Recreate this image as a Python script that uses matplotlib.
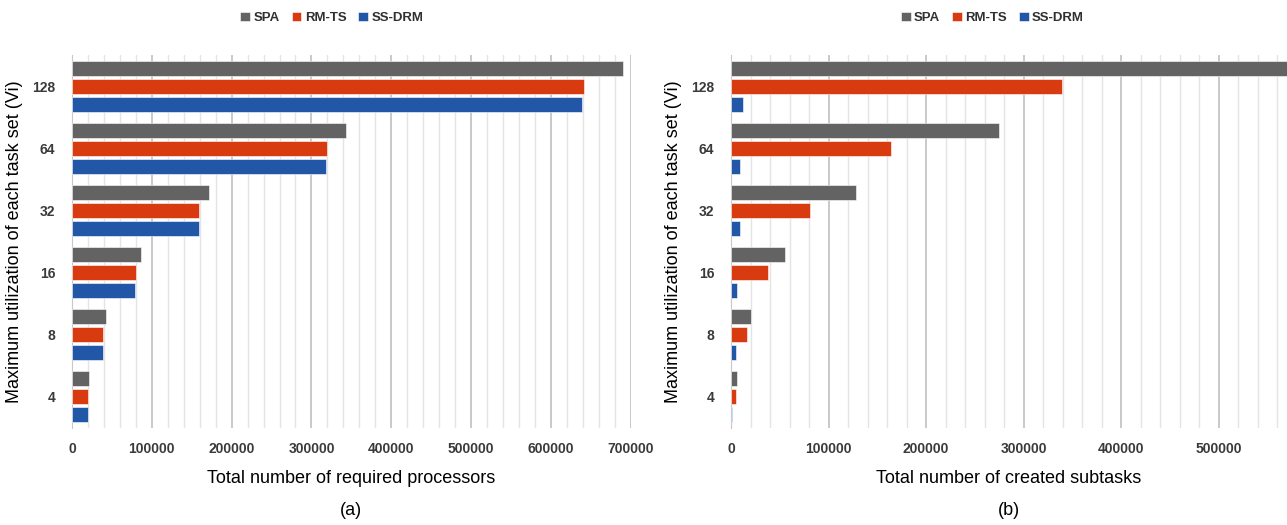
import numpy as np
import matplotlib.pyplot as plt
from matplotlib.ticker import MultipleLocator

# Maximum utilization of each task set (Vi)
categories = ["4", "8", "16", "32", "64", "128"]
series = ["SPA", "RM-TS", "SS-DRM"]
colors = ["#636363", "#d83b10", "#2257a8"]

# (a) total number of required processors
proc_spa = [21300, 42500, 86700, 172000, 343000, 691000]
proc_rmts = [19600, 39200, 80500, 159000, 320000, 642000]
proc_ssdrm = [19600, 39200, 78500, 159000, 318000, 639000]

# (b) total number of created subtasks
sub_spa = [6600, 20400, 55300, 128000, 274700, 580000]
sub_rmts = [5300, 16300, 37800, 81000, 164000, 339000]
sub_ssdrm = [1400, 5300, 6600, 9600, 9600, 12200]

plt.rcParams["font.family"] = ["Liberation Sans", "DejaVu Sans"]

fig = plt.figure(figsize=(12.87, 5.25), dpi=100)
ax1 = fig.add_axes([0.056, 0.185, 0.434, 0.71])
ax2 = fig.add_axes([0.568, 0.185, 0.432, 0.71])


def draw(ax, data, xmax, xlabel, tag, legend_x):
    y = np.arange(len(categories))
    step = 0.29
    for k, (vals, name, c) in enumerate(zip(data, series, colors)):
        ax.barh(y + (1 - k) * step, vals, height=0.24, color=c,
                edgecolor="white", linewidth=0.4, label=name, zorder=3)
    ax.set_ylim(-0.5, len(categories) - 0.5)
    ax.set_xlim(0, xmax)
    ax.set_yticks(y)
    ax.set_yticklabels(categories)
    ax.xaxis.set_major_locator(MultipleLocator(100000))
    ax.xaxis.set_minor_locator(MultipleLocator(20000))
    ax.grid(True, which="major", axis="x", color="#c0c0c0", linewidth=1.2, zorder=0)
    ax.grid(True, which="minor", axis="x", color="#e4e4e4", linewidth=1.0, zorder=0)
    for s in ["top", "right", "bottom"]:
        ax.spines[s].set_visible(False)
    ax.spines["left"].set_color("#c8c8c8")
    ax.tick_params(axis="both", which="both", length=0, labelsize=10,
                   labelcolor="#3a3a3a")
    for lab in ax.get_xticklabels() + ax.get_yticklabels():
        lab.set_fontweight("bold")
    ax.tick_params(axis="x", pad=10)
    ax.tick_params(axis="y", pad=12)
    ax.set_xlabel(xlabel, fontsize=13, labelpad=10)
    ax.set_ylabel("Maximum utilization of each task set (Vi)", fontsize=13)
    ax.yaxis.set_label_coords(-0.088, 0.5)
    leg = ax.legend(loc="center", bbox_to_anchor=(legend_x, 1.1), ncol=3,
                    frameon=False, fontsize=9.5, handlelength=0.75,
                    handleheight=0.75, handletextpad=0.25, columnspacing=0.9)
    for t in leg.get_texts():
        t.set_color("#303030")
        t.set_fontweight("bold")
    bb = ax.get_position()
    fig.text(bb.x0 + bb.width / 2, 0.028, tag, ha="center", va="center",
             fontsize=13)


draw(ax1, [proc_spa, proc_rmts, proc_ssdrm], 700000,
     "Total number of required processors", "(a)", 0.465)
draw(ax2, [sub_spa, sub_rmts, sub_ssdrm], 570000,
     "Total number of created subtasks", "(b)", 0.47)

plt.savefig("out.png", dpi=100)
